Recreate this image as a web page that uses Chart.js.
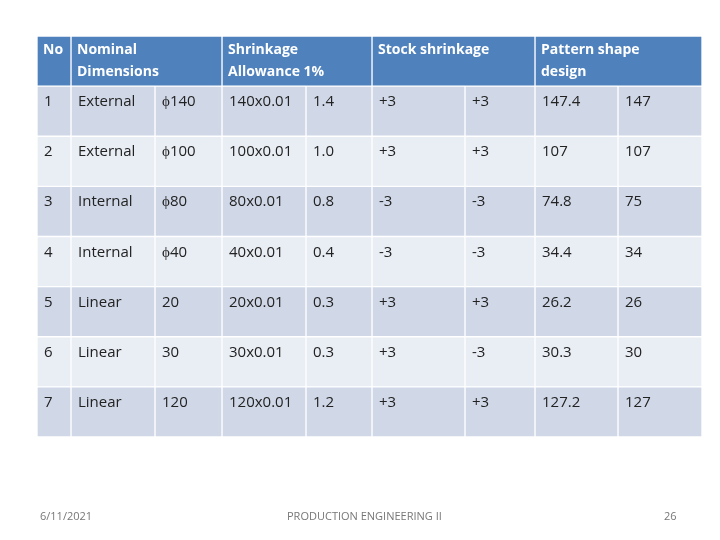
<!DOCTYPE html>
<html><head><meta charset="utf-8">
<script src="https://cdn.jsdelivr.net/npm/chart.js@4/dist/chart.umd.min.js"></script>
<style>
body{margin:0;background:#fff;width:720px;height:540px;position:relative;font-family:"Open Sans",sans-serif;overflow:hidden}
#wrap{position:absolute;left:0;top:0;width:720px;height:540px}
.ft{position:absolute;top:508px;font-size:11px;color:#777}
</style></head><body>
<div id="wrap"><canvas id="c" width="720" height="540"></canvas></div>
<div class="ft" style="left:40px">6/11/2021</div>
<div class="ft" style="left:287px">PRODUCTION ENGINEERING II</div>
<div class="ft" style="left:664px">26</div>
<script>
const headers = [["No"],["Nominal","Dimensions"],null,["Shrinkage","Allowance 1%"],null,["Stock shrinkage"],null,["Pattern shape","design"],null];
const rowNo = ["1","2","3","4","5","6","7"];
const kind = ["External","External","Internal","Internal","Linear","Linear","Linear"];
const dim = ["ϕ140","ϕ100","ϕ80","ϕ40","20","30","120"];
const calc = ["140x0.01","100x0.01","80x0.01","40x0.01","20x0.01","30x0.01","120x0.01"];
const allow = ["1.4","1.0","0.8","0.4","0.3","0.3","1.2"];
const stockA = ["+3","+3","-3","-3","+3","+3","+3"];
const stockB = ["+3","+3","-3","-3","+3","-3","+3"];
const patA = ["147.4","107","74.8","34.4","26.2","30.3","127.2"];
const patB = ["147","107","75","34","26","30","127"];
// layout: column widths (px units of the x scale)
const colW = [34,84,67,84,66,93,70,83,84];
const cols = [rowNo,kind,dim,calc,allow,stockA,stockB,patA,patB];
const rowLabels = ["H","1","2","3","4","5","6","7"];
const total = colW.reduce((a,b)=>a+b,0);
const datasets = colW.map((w,i)=>{
  let hv;
  if(headers[i]===null) hv=0;
  else { hv=w; let j=i+1; while(j<colW.length && headers[j]===null){hv+=colW[j];j++;} }
  return {
    data:[hv,...rowNo.map(()=>w)],
    backgroundColor:rowLabels.map((r,k)=>k===0?'#4f81bd':(k%2===1?'#d0d8e8':'#e9edf4')),
    borderColor:'#ffffff',borderWidth:1,borderSkipped:false,
    barPercentage:1,categoryPercentage:1
  };
});
const textPlugin={id:'txt',afterDatasetsDraw(ch){
  const ctx=ch.ctx;ctx.save();ctx.textBaseline='alphabetic';
  datasets.forEach((d,i)=>{
    const meta=ch.getDatasetMeta(i);
    meta.data.forEach((bar,k)=>{
      const left=Math.min(bar.base,bar.x), top=bar.y-bar.height/2;
      if(k===0){
        if(!headers[i])return;
        ctx.fillStyle='#fff';ctx.font='bold 14px "Open Sans"';
        headers[i].forEach((t,m)=>ctx.fillText(t,left+6,top+18+m*22));
      } else {
        ctx.fillStyle='#222';ctx.font='15px "Open Sans"';
        ctx.fillText(cols[i][k-1],left+7,top+20);
      }
    });
  });
  ctx.restore();
}};
new Chart(document.getElementById('c'),{
  type:'bar',
  data:{labels:rowLabels,datasets},
  options:{indexAxis:'y',responsive:false,animation:false,
    layout:{padding:{left:37,right:18,top:36,bottom:103}},
    plugins:{legend:{display:false},tooltip:{enabled:false}},
    scales:{x:{stacked:true,min:0,max:total,display:false},y:{stacked:true,display:false}}},
  plugins:[textPlugin]
});
</script></body></html>
